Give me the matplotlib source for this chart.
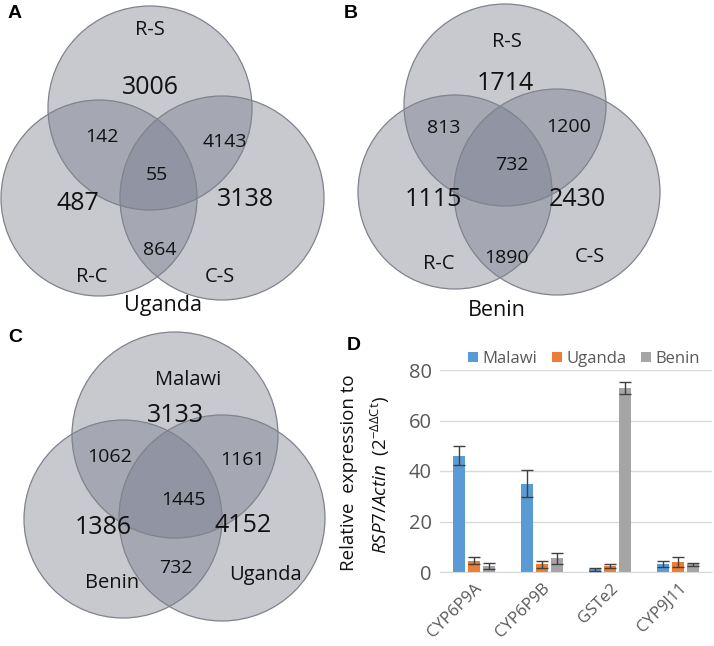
import matplotlib
matplotlib.use('Agg')
import matplotlib.pyplot as plt
from matplotlib.patches import Circle
import numpy as np

### Venn counts: top only, left only, right only, top&left, top&right, left&right, all three
uganda_counts = [3006, 487, 3138, 142, 4143, 864, 55]
uganda_sets = ['R-S', 'R-C', 'C-S']
benin_counts = [1714, 1115, 2430, 813, 1200, 1890, 732]
benin_sets = ['R-S', 'R-C', 'C-S']
country_counts = [3133, 1386, 4152, 1062, 1161, 732, 1445]
country_sets = ['Malawi', 'Benin', 'Uganda']

### qPCR panel
genes = ['CYP6P9A', 'CYP6P9B', 'GSTe2', 'CYP9J11']
countries = ['Malawi', 'Uganda', 'Benin']
malawi_expr = [46, 35, 1.0, 3.2]
malawi_err = [3.8, 5.4, 0.6, 1.2]
uganda_expr = [4.5, 3.0, 2.4, 4.0]
uganda_err = [1.5, 1.5, 0.9, 2.0]
benin_expr = [2.5, 5.4, 72.8, 3.0]
benin_err = [1.2, 2.3, 2.3, 0.7]

FONT = 'Open Sans'
plt.rcParams['font.family'] = [FONT, 'DejaVu Sans']
plt.rcParams['mathtext.fontset'] = 'custom'
plt.rcParams['mathtext.rm'] = FONT
plt.rcParams['mathtext.it'] = FONT + ':italic'


def draw_venn(ax, circles, counts, sets, count_pos, set_pos, title=None, title_pos=None):
    for (cx, cy, r) in circles:
        ax.add_patch(Circle((cx, cy), r, facecolor='#737889', edgecolor='none', alpha=0.4))
    for (cx, cy, r) in circles:
        ax.add_patch(Circle((cx, cy), r, facecolor='none', edgecolor='#80838c', lw=0.9))
    for i, (n, (x, y)) in enumerate(zip(counts, count_pos)):
        ax.text(x, y, str(n), ha='center', va='center', fontsize=18 if i < 3 else 14,
                color='#111111')
    for s, (x, y) in zip(sets, set_pos):
        ax.text(x, y, s, ha='center', va='center', fontsize=14.5, color='#111111')
    if title:
        ax.text(title_pos[0], title_pos[1], title, ha='center', va='center', fontsize=15.5, color='#111111')


fig = plt.figure(figsize=(7.14, 6.46), dpi=100)
ax = fig.add_axes([0, 0, 1, 1])
ax.set_xlim(0, 714)
ax.set_ylim(646, 0)
ax.axis('off')

# Panel A
draw_venn(ax, [(150, 108, 102), (99, 198, 98), (222, 198, 102)], uganda_counts, uganda_sets,
          [(150, 88), (78, 203), (245, 200), (102, 137), (225, 142), (160, 250), (157, 175)],
          [(150, 30), (92, 277), (220, 277)], 'Uganda', (163, 306))
# Panel B
draw_venn(ax, [(505, 105, 101), (455, 192, 97), (557, 192, 103)], benin_counts, benin_sets,
          [(505, 83), (433, 199), (577, 199), (444, 128), (569, 127), (507, 258), (512, 165)],
          [(507, 42), (439, 264), (590, 257)], 'Benin', (497, 311))
# Panel C
draw_venn(ax, [(175, 435, 103), (123, 519, 99), (222, 518, 103)], country_counts, country_sets,
          [(175, 415), (103, 528), (243, 525), (110, 457), (242, 460), (176, 568), (183, 500)],
          [(188, 380), (112, 583), (265, 575)])

for letter, (x, y) in zip(['A', 'B', 'C', 'D'], [(15, 14), (351, 14), (15, 337), (354, 345)]):
    ax.text(x, y, letter, ha='center', va='center', fontsize=14, fontweight='bold',
            family='Liberation Sans', color='black')

# Panel D
bx = fig.add_axes([440 / 714, (646 - 572) / 646, 272 / 714, 202 / 646])
colors = ['#5B9BD5', '#ED7D31', '#A5A5A5']
x = np.arange(len(genes))
w = 0.17
for k, (vals, errs, c, name) in enumerate(zip([malawi_expr, uganda_expr, benin_expr],
                                              [malawi_err, uganda_err, benin_err], colors, countries)):
    bx.bar(x + (k - 1) * 0.22, vals, width=w, color=c, label=name, zorder=2)
    bx.errorbar(x + (k - 1) * 0.22, vals, yerr=errs, fmt='none', ecolor='#404040',
                elinewidth=1, capsize=4, capthick=1, zorder=3)
bx.set_xlim(-0.5, 3.5)
bx.set_ylim(0, 80)
bx.set_yticks([0, 20, 40, 60, 80])
bx.yaxis.grid(True, color='#D9D9D9', lw=1, zorder=0)
bx.set_axisbelow(True)
for s in ['left', 'right', 'top']:
    bx.spines[s].set_visible(False)
bx.spines['bottom'].set_color('#D9D9D9')
bx.tick_params(length=0, labelsize=14.5, colors='#595959', pad=6)
bx.set_xticks(x)
bx.set_xticklabels(genes, rotation=45, ha='right', va='top', rotation_mode='anchor', fontsize=12)
bx.legend(loc='center', bbox_to_anchor=(0.53, 1.055), ncol=3, frameon=False, fontsize=12,
          handlelength=0.6, handleheight=0.6, handletextpad=0.25, columnspacing=0.9,
          labelcolor='#595959', borderaxespad=0, borderpad=0)

fig.text(349 / 714, 1 - 473 / 646, 'Relative  expression to', rotation=90, ha='center', va='center',
         fontsize=13.5, color='#111111')
fig.text(380 / 714, 1 - 475 / 646, r'$\mathit{RSP7/Actin}$  (2$^{-\Delta\Delta \mathrm{Ct}}$)', rotation=90,
         ha='center', va='center', fontsize=13.5, color='#111111')

fig.savefig('out.png', dpi=100)
